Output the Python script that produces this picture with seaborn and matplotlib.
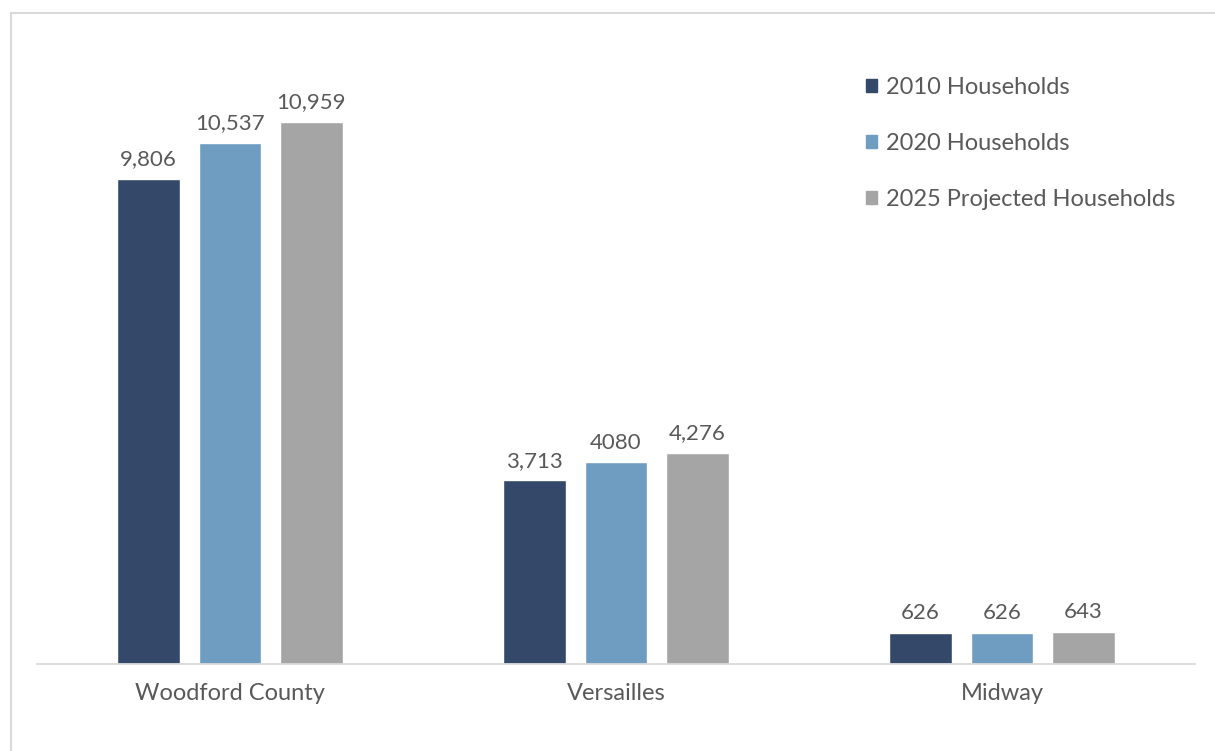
import matplotlib
matplotlib.use("Agg")
import matplotlib.pyplot as plt
import matplotlib.patches as mpatches
import seaborn as sns
import pandas as pd

categories = ["Woodford County", "Versailles", "Midway"]
series_names = ["2010 Households", "2020 Households", "2025 Projected Households"]
hh_2010 = [9806, 3713, 626]
hh_2020 = [10537, 4080, 626]
hh_2025 = [10959, 4276, 643]
labels_2010 = ["9,806", "3,713", "626"]
labels_2020 = ["10,537", "4080", "626"]
labels_2025 = ["10,959", "4,276", "643"]
colors = ["#34496A", "#6F9DC2", "#A5A5A5"]

rows = []
for name, vals in zip(series_names, [hh_2010, hh_2020, hh_2025]):
    for c, v in zip(categories, vals):
        rows.append({"category": c, "series": name, "value": v})
df = pd.DataFrame(rows)

sns.set_theme(style="white")
plt.rcParams["font.family"] = ["Lato", "DejaVu Sans"]

fig = plt.figure(figsize=(12.15, 7.51), dpi=100)
ax = fig.add_axes([37/1215, 1-664/751, (1195-37)/1215, (664-41)/751])

sns.barplot(data=df, x="category", y="value", hue="series", order=categories,
            hue_order=series_names, palette=colors, width=0.633, gap=0.227,
            saturation=1, ax=ax, errorbar=None, legend=False)

ax.set_ylim(0, 12600)
ax.set_xlim(-0.5, 2.5)
ax.set_xlabel("")
ax.set_ylabel("")
ax.set_yticks([])
for s in ["top", "right", "left"]:
    ax.spines[s].set_visible(False)
ax.spines["bottom"].set_color("#D9D9D9")
ax.spines["bottom"].set_linewidth(1.3)
ax.tick_params(axis="x", length=0, pad=14, labelsize=17, labelcolor="#595959")

for cont, labs in zip(ax.containers, [labels_2010, labels_2020, labels_2025]):
    ax.bar_label(cont, labels=labs, padding=7, fontsize=16, color="#595959")

handles = [mpatches.Patch(color=c, label=n) for c, n in zip(colors, series_names)]
leg = fig.legend(handles=handles, loc="upper left", bbox_to_anchor=(866/1215, 1-77/751),
                 frameon=False, fontsize=17, labelcolor="#595959",
                 handlelength=0.47, handleheight=0.47, handletextpad=0.38,
                 labelspacing=1.49, borderaxespad=0, borderpad=0)

border = mpatches.Rectangle((11/1215, -0.05), 1.2, (751-13)/751 + 0.05,
                            transform=fig.transFigure, fill=False,
                            edgecolor="#D9D9D9", linewidth=1.5, clip_on=False)
fig.add_artist(border)

fig.savefig("out.png", dpi=100)
